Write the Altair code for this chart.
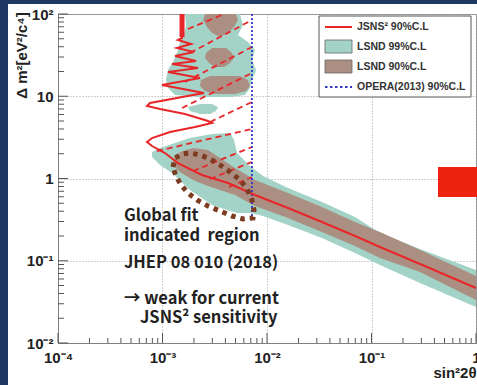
import altair as alt
import pandas as pd

# ---------------- data (log10 of sin^2 2theta and of dm^2 [eV^2]) ----------------
jsns2_log_s = [-2.813, -2.813, -2.852, -2.727, -2.861, -2.699, -2.880, -2.679, -2.909, -2.660,
               -2.947, -2.641, -3.005, -2.603, -3.120, -3.148, -3.024, -2.785, -2.565, -2.526,
               -2.689, -2.928, -3.100, -3.148, -3.100, -2.976, -2.852, -2.622, -2.373, -2.115,
               -1.799, -1.474, -1.158, -0.919, -0.536, 0.000]
jsns2_log_dm2 = [2.000, 1.708, 1.684, 1.635, 1.587, 1.538, 1.489, 1.429, 1.392, 1.343,
                 1.295, 1.222, 1.137, 1.040, 0.918, 0.881, 0.845, 0.784, 0.699, 0.675,
                 0.626, 0.565, 0.492, 0.444, 0.395, 0.310, 0.188, 0.043, -0.055, -0.201,
                 -0.359, -0.529, -0.699, -0.833, -1.040, -1.331]
jsns2_thick_log_s = [-2.813, -2.813]
jsns2_thick_log_dm2 = [2.000, 1.720]

teal_band_log_s = [-3.100, -3.024, -2.909, -2.737, -2.526, -2.354, -2.316, -2.287, -2.163, -2.038,
                   -1.799, -1.474, -1.158, -0.919, -0.536, 0.000]
teal_band_log_hi = [0.322, 0.371, 0.419, 0.492, 0.541, 0.553, 0.468, 0.310, 0.152, 0.030,
                    -0.116, -0.286, -0.468, -0.663, -0.857, -1.112]
teal_band_log_lo = [0.261, 0.164, 0.067, -0.140, -0.322, -0.395, -0.407, -0.419, -0.419, -0.456,
                    -0.565, -0.723, -0.906, -1.052, -1.271, -1.562]

brown_band_log_s = [-2.900, -2.833, -2.708, -2.565, -2.450, -2.306, -2.115, -1.799, -1.474, -1.158,
                    -0.919, -0.536, 0.000]
brown_band_log_hi = [0.225, 0.322, 0.371, 0.347, 0.249, 0.128, -0.018, -0.176, -0.347, -0.529,
                     -0.650, -0.869, -1.185]
brown_band_log_lo = [0.164, 0.079, -0.018, -0.091, -0.140, -0.201, -0.334, -0.480, -0.650, -0.821,
                     -0.967, -1.137, -1.477]

teal_col_log_dm2 = [2.000, 1.866, 1.745, 1.660, 1.562, 1.441, 1.319, 1.198, 1.100, 1.015, 0.991]
teal_col_log_sl = [-2.785, -2.775, -2.794, -2.833, -2.852, -2.890, -2.947, -2.967, -2.947, -2.880, -2.641]
teal_col_log_sr = [-2.258, -2.230, -2.278, -2.182, -2.115, -2.144, -2.105, -2.144, -2.163, -2.211, -2.354]

teal_tongue_log_dm2 = [0.906, 0.869, 0.821, 0.784]
teal_tongue_log_sl = [-2.641, -2.756, -2.737, -2.641]
teal_tongue_log_sr = [-2.526, -2.469, -2.488, -2.545]

brown1_log_dm2 = [2.000, 1.927, 1.842, 1.769, 1.733]
brown1_log_sl = [-2.593, -2.612, -2.574, -2.526, -2.469]
brown1_log_sr = [-2.297, -2.278, -2.316, -2.373, -2.431]
brown2_log_dm2 = [1.587, 1.526, 1.465, 1.404, 1.356]
brown2_log_sl = [-2.526, -2.584, -2.593, -2.555, -2.498]
brown2_log_sr = [-2.392, -2.335, -2.316, -2.354, -2.411]
brown3_log_dm2 = [1.246, 1.198, 1.125, 1.064, 1.027]
brown3_log_sl = [-2.545, -2.632, -2.641, -2.593, -2.498]
brown3_log_sr = [-2.258, -2.182, -2.163, -2.201, -2.306]

hatch_log_s1 = [-2.756, -2.737, -2.785, -2.813, -2.545, -3.053, -2.708, -2.545, -2.364]
hatch_log_m1 = [1.818, 1.526, 1.173, 0.857, 0.687, 0.334, 0.091, -0.006, -0.103]
hatch_log_s2 = [-2.411, -2.144, -2.144, -2.144, -2.144, -2.144, -2.144, -2.144, -2.144]
hatch_log_m2 = [2.000, 1.927, 1.599, 1.283, 0.930, 0.602, 0.383, 0.201, 0.018]

opera_log_s = -2.144
opera_log_dm2 = [-0.505, 2.000]

gf_log_s = [-2.900, -2.880, -2.813, -2.737, -2.641, -2.545, -2.450, -2.354, -2.258, -2.191, -2.144,
            -2.124, -2.134, -2.230, -2.335, -2.450, -2.565, -2.670, -2.756, -2.823, -2.871, -2.900]
gf_log_dm2 = [0.140, 0.249, 0.298, 0.310, 0.286, 0.237, 0.164, 0.079, -0.018, -0.128, -0.261,
              -0.383, -0.480, -0.492, -0.456, -0.395, -0.334, -0.261, -0.176, -0.079, 0.030, 0.140]

x_major = [1e-4, 1e-3, 1e-2, 1e-1, 1]
y_major = [1e-2, 1e-1, 1, 10, 100]
minor_mult = [2, 3, 4, 5, 6, 7, 8, 9]

legend_labels = ["JSNS\u00b2 90%C.L", "LSND 99%C.L", "LSND 90%C.L", "OPERA(2013) 90%C.L"]
note_lines = ["Global fit", "indicated\u00a0\u00a0region", "JHEP 08 010 (2018)",
              "\u2192 weak for current", "JSNS\u00b2 sensitivity"]

# ---------------- style ----------------
NAVY = "#1f3864"
TEAL = "#a3d2c6"
BROWN = "#ab8f82"
RED = "#e8262a"
BLUE = "#3535c8"
GFBROWN = "#7d3b20"
W, H = 418, 329

def p10(v):
    return [10 ** a for a in v]

xs = alt.Scale(type="log", domain=[1e-4, 1], nice=False)
ys = alt.Scale(type="log", domain=[1e-2, 1e2], nice=False)

xaxis = alt.Axis(
    values=x_major,
    labelExpr="datum.value > 0.5 ? '1' : datum.value > 0.05 ? '10\u207b\u00b9' : datum.value > 0.005 ? '10\u207b\u00b2' : datum.value > 0.0005 ? '10\u207b\u00b3' : '10\u207b\u2074'",
    grid=True, gridColor="#a0a0a0", gridDash=[1, 2], gridWidth=1,
    ticks=False, domainColor="#808080", domainWidth=1,
    labelFont="Liberation Sans", labelFontSize=15, labelFontWeight="bold", labelColor="#222",
    labelPadding=7, labelFlush=False,
    title="sin\u00b22\u03b8", titleFont="Liberation Sans", titleFontSize=15, titleFontWeight="bold",
    titleColor="#222", titleX=W, titleY=29, titleAlign="right", titleBaseline="middle",
)
yaxis = alt.Axis(
    values=y_major,
    labelExpr="datum.value > 50 ? '10\u00b2' : datum.value > 5 ? '10' : datum.value > 0.5 ? '1' : datum.value > 0.05 ? '10\u207b\u00b9' : '10\u207b\u00b2'",
    grid=True, gridColor="#a0a0a0", gridDash=[1, 2], gridWidth=1,
    ticks=False, domainColor="#808080", domainWidth=1,
    labelFont="Liberation Sans", labelFontSize=15, labelFontWeight="bold", labelColor="#222",
    labelPadding=5, labelFlush=False,
    title="\u0394 m\u00b2[eV\u00b2/c\u2074]", titleFont="Liberation Sans", titleFontSize=15,
    titleFontWeight="bold", titleColor="#222", titleAngle=270, titleX=-37, titleY=41,
    titleAlign="center", titleBaseline="middle",
)

def X(f):
    return alt.X(f, type="quantitative", scale=xs, axis=xaxis)

def Y(f):
    return alt.Y(f, type="quantitative", scale=ys, axis=yaxis)

one = pd.DataFrame({"k": [0]})

# ---------------- tables ----------------
df_teal_band = pd.DataFrame({"s": p10(teal_band_log_s), "lo": p10(teal_band_log_lo), "hi": p10(teal_band_log_hi)})
df_brown_band = pd.DataFrame({"s": p10(brown_band_log_s), "lo": p10(brown_band_log_lo), "hi": p10(brown_band_log_hi)})

def hrows(g, dm, sl, sr):
    return pd.DataFrame({"g": g, "m": p10(dm), "sl": p10(sl), "sr": p10(sr)})

df_teal_col = pd.concat([hrows("col", teal_col_log_dm2, teal_col_log_sl, teal_col_log_sr),
                         hrows("tongue", teal_tongue_log_dm2, teal_tongue_log_sl, teal_tongue_log_sr)])
df_brown_isl = pd.concat([hrows("b1", brown1_log_dm2, brown1_log_sl, brown1_log_sr),
                          hrows("b2", brown2_log_dm2, brown2_log_sl, brown2_log_sr),
                          hrows("b3", brown3_log_dm2, brown3_log_sl, brown3_log_sr)])
df_hatch = pd.DataFrame({"s1": p10(hatch_log_s1), "m1": p10(hatch_log_m1),
                         "s2": p10(hatch_log_s2), "m2": p10(hatch_log_m2)})
df_opera = pd.DataFrame({"s": [10 ** opera_log_s], "m1": [10 ** opera_log_dm2[0]], "m2": [10 ** opera_log_dm2[1]]})
df_gf = pd.DataFrame({"i": range(len(gf_log_s)), "s": p10(gf_log_s), "m": p10(gf_log_dm2)})
df_red = pd.DataFrame({"i": range(len(jsns2_log_s)), "s": p10(jsns2_log_s), "m": p10(jsns2_log_dm2)})
df_red_thick = pd.DataFrame({"i": [0, 1], "s": p10(jsns2_thick_log_s), "m": p10(jsns2_thick_log_dm2)})

df_xmaj = pd.DataFrame({"v": x_major})
df_xmin = pd.DataFrame({"v": [k * d for d in x_major[:-1] for k in minor_mult]})
df_ymaj = pd.DataFrame({"v": y_major})
df_ymin = pd.DataFrame({"v": [k * d for d in y_major[:-1] for k in minor_mult]})

# ---------------- layers ----------------
layers = []

# navy slide border
layers.append(alt.Chart(one).mark_rect(color=NAVY).encode(
    x=alt.value(-58), x2=alt.value(-50), y=alt.value(-14), y2=alt.value(H + 42)))
layers.append(alt.Chart(one).mark_rect(color=NAVY).encode(
    x=alt.value(-58), x2=alt.value(W + 1), y=alt.value(-14), y2=alt.value(-10)))

layers.append(alt.Chart(df_teal_band).mark_area(color=TEAL, opacity=1).encode(
    x=X("s"), y=Y("lo"), y2=alt.Y2("hi")))
layers.append(alt.Chart(df_teal_col).mark_area(color=TEAL, opacity=1, orient="horizontal").encode(
    y=Y("m"), x=X("sl"), x2=alt.X2("sr"), detail="g:N"))
layers.append(alt.Chart(df_brown_band).mark_area(color=BROWN, opacity=1).encode(
    x=X("s"), y=Y("lo"), y2=alt.Y2("hi")))
layers.append(alt.Chart(df_brown_isl).mark_area(color=BROWN, opacity=1, orient="horizontal").encode(
    y=Y("m"), x=X("sl"), x2=alt.X2("sr"), detail="g:N"))

layers.append(alt.Chart(df_hatch).mark_rule(color=RED, strokeDash=[6, 4], strokeWidth=1.8).encode(
    x=X("s1"), y=Y("m1"), x2=alt.X2("s2"), y2=alt.Y2("m2")))
layers.append(alt.Chart(df_opera).mark_rule(color=BLUE, strokeDash=[2, 2], strokeWidth=1.8).encode(
    x=X("s"), y=Y("m1"), y2=alt.Y2("m2")))

layers.append(alt.Chart(df_red).mark_line(color=RED, strokeWidth=2).encode(
    x=X("s"), y=Y("m"), order="i:Q"))
layers.append(alt.Chart(df_red_thick).mark_line(color=RED, strokeWidth=5).encode(
    x=X("s"), y=Y("m"), order="i:Q"))

layers.append(alt.Chart(df_gf).mark_line(color=GFBROWN, strokeWidth=5, strokeDash=[4.5, 5],
                                         strokeCap="butt").encode(
    x=X("s"), y=Y("m"), order="i:Q"))

# ticks (inside)
layers.append(alt.Chart(df_xmaj).mark_rule(color="#555", strokeWidth=1).encode(
    x=X("v"), y=alt.value(H), y2=alt.value(H - 10)))
layers.append(alt.Chart(df_xmin).mark_rule(color="#555", strokeWidth=1).encode(
    x=X("v"), y=alt.value(H), y2=alt.value(H - 5)))
layers.append(alt.Chart(df_ymaj).mark_rule(color="#555", strokeWidth=1).encode(
    y=Y("v"), x=alt.value(0), x2=alt.value(10)))
layers.append(alt.Chart(df_ymin).mark_rule(color="#555", strokeWidth=1).encode(
    y=Y("v"), x=alt.value(0), x2=alt.value(6)))

# legend
layers.append(alt.Chart(one).mark_rect(fill="white", stroke="#555", strokeWidth=1).encode(
    x=alt.value(261), x2=alt.value(413), y=alt.value(2), y2=alt.value(83)))
layers.append(alt.Chart(one).mark_rule(color=RED, strokeWidth=2).encode(
    x=alt.value(267), x2=alt.value(294), y=alt.value(13)))
layers.append(alt.Chart(one).mark_rect(fill=TEAL, stroke="#666", strokeWidth=0.8).encode(
    x=alt.value(267), x2=alt.value(294), y=alt.value(26), y2=alt.value(39)))
layers.append(alt.Chart(one).mark_rect(fill=BROWN, stroke="#666", strokeWidth=0.8).encode(
    x=alt.value(267), x2=alt.value(294), y=alt.value(46), y2=alt.value(59)))
layers.append(alt.Chart(one).mark_rule(color=BLUE, strokeWidth=2, strokeDash=[2.5, 2.5]).encode(
    x=alt.value(267), x2=alt.value(294), y=alt.value(73)))
for lab, yy in zip(legend_labels, [13, 33, 53, 73]):
    layers.append(alt.Chart(one).mark_text(text=lab, font="Liberation Sans", fontSize=10.5,
                                           fontWeight="bold", color="#333", align="left",
                                           baseline="middle").encode(
        x=alt.value(299), y=alt.value(yy)))

# red square
layers.append(alt.Chart(one).mark_rect(color="#ee2211").encode(
    x=alt.value(380), x2=alt.value(W + 2), y=alt.value(153), y2=alt.value(183)))

# notes
for txt, xx, yy in zip(note_lines, [66, 66, 66, 66, 82], [207, 227, 254, 290, 309]):
    layers.append(alt.Chart(one).mark_text(text=txt, font="Noto Sans CJK JP", fontSize=16.5,
                                           fontWeight="bold", color="#222", align="left",
                                           baseline="alphabetic").encode(
        x=alt.value(xx), y=alt.value(yy)))

chart = alt.layer(*layers).properties(
    width=W, height=H,
    padding={"left": 58, "top": 14, "right": 1, "bottom": 42},
    autosize=alt.AutoSizeParams(type="none"),
    background="white",
).configure_view(stroke="#909090", strokeWidth=1)

chart.save("out.html", embed_options={"renderer": "svg", "actions": False})
